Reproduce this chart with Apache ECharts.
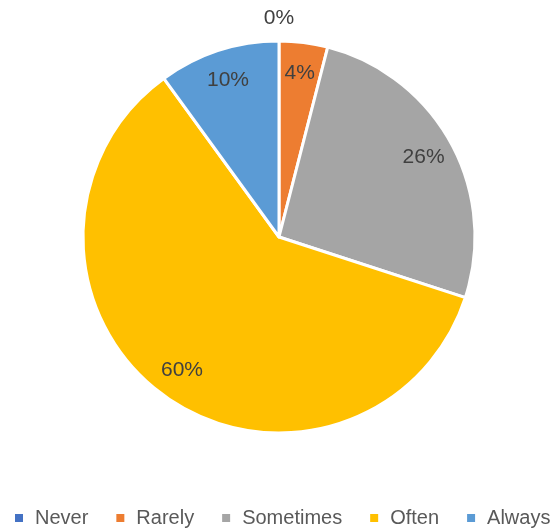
<!DOCTYPE html>
<html>
<head>
<meta charset="utf-8">
<script src="https://cdn.jsdelivr.net/npm/echarts@6/dist/echarts.min.js"></script>
<style>
  html, body { margin: 0; padding: 0; background: #fff; }
  #chart { width: 559px; height: 530px; }
</style>
</head>
<body>
<div id="chart"></div>
<script>
// Survey answer shares (percent), clockwise from 12 o'clock
const categories = ['Never', 'Rarely', 'Sometimes', 'Often', 'Always'];
const shares = [0, 4, 26, 60, 10];
const colors = ['#4472C4', '#ED7D31', '#A5A5A5', '#FFC000', '#5B9BD5'];

const FONT = '"Liberation Sans", Arial, sans-serif';
const center = [279, 237];

const sliceData = categories.map((name, i) => ({
  name, value: shares[i], itemStyle: { color: colors[i] }
}));

// Label ring: same slices, transparent, so inside labels sit near the rim
const labelData = categories.map((name, i) => ({
  name, value: shares[i],
  label: { show: shares[i] > 0 }
}));

// Outer ring used only for the label of an empty slice
const emptyLabelData = categories.map((name, i) => ({
  name, value: shares[i],
  label: { show: shares[i] === 0 }
}));

const labelStyle = {
  position: 'inside',
  formatter: '{c}%',
  fontFamily: FONT,
  fontSize: 21,
  color: '#404040'
};

const chart = echarts.init(document.getElementById('chart'), null, { renderer: 'canvas' });
chart.setOption({
  animation: false,
  color: colors,
  legend: {
    data: categories.map((name, i) => ({ name, itemStyle: { color: colors[i] } })),
    left: 13,
    top: 508,
    width: 546,
    padding: 0,
    icon: 'rect',
    itemWidth: 10,
    itemHeight: 10,
    itemGap: 26,
    selectedMode: false,
    textStyle: {
      fontFamily: FONT,
      fontSize: 20,
      color: '#595959',
      padding: [0, 0, 0, 6]
    }
  },
  series: [
    {
      type: 'pie',
      center: center,
      radius: [0, 196],
      startAngle: 90,
      clockwise: true,
      stillShowZeroSum: true,
      silent: true,
      label: { show: false },
      labelLine: { show: false },
      itemStyle: { borderColor: '#ffffff', borderWidth: 3 },
      data: sliceData
    },
    {
      type: 'pie',
      center: center,
      radius: [130, 194],
      startAngle: 90,
      clockwise: true,
      silent: true,
      avoidLabelOverlap: false,
      itemStyle: { color: 'rgba(0,0,0,0)' },
      label: labelStyle,
      labelLine: { show: false },
      data: labelData
    },
    {
      type: 'pie',
      center: center,
      radius: [200, 231],
      startAngle: 90,
      clockwise: true,
      silent: true,
      avoidLabelOverlap: false,
      itemStyle: { color: 'rgba(0,0,0,0)' },
      label: labelStyle,
      labelLine: { show: false },
      data: emptyLabelData
    }
  ]
});
</script>
</body>
</html>
